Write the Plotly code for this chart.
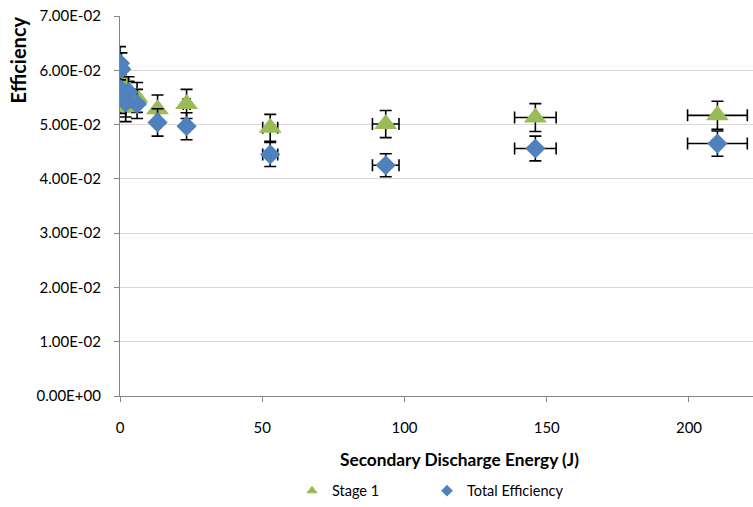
import plotly.graph_objects as go

# ---- data ----
energy = [0.0, 0.5, 0.3, 3.0, 2.0, 6.0, 13.2, 23.4, 52.8, 93.4, 146.0, 210.0]
stage1 = [0.0590, 0.0580, 0.0548, 0.0552, 0.0532, 0.0550, 0.0528, 0.0538, 0.0494, 0.0501, 0.0513, 0.0517]
total_eff = [0.0613, 0.0602, 0.0565, 0.0560, 0.0541, 0.0538, 0.0504, 0.0497, 0.0445, 0.0425, 0.0456, 0.0465]
rel_err = 0.05  # 5 % error bars on both axes

y_tickvals = [0.0, 0.01, 0.02, 0.03, 0.04, 0.05, 0.06, 0.07]
y_ticktext = ["0.00E+00", "1.00E-02", "2.00E-02", "3.00E-02", "4.00E-02",
              "5.00E-02", "6.00E-02", "7.00E-02"]
x_tickvals = [0, 50, 100, 150, 200]

GREEN = "#9BBB59"
BLUE = "#4F81BD"
FONT = "Lato"

W, H = 753, 507
L, T = 120, 16
PW, PH = 633, 385
B = H - T - PH


def px(xs):
    return (xs - L) / PW


def py(ys):
    return (T + PH - ys) / PH


err_style = dict(type="percent", value=rel_err * 100, color="black", thickness=1.6, width=6)

fig = go.Figure()
fig.add_trace(go.Scatter(
    x=energy, y=stage1, mode="markers", name="Stage 1", showlegend=False,
    marker=dict(symbol="triangle-up", size=20, color=GREEN, line=dict(width=0)),
    error_y=err_style, error_x=err_style,
))
fig.add_trace(go.Scatter(
    x=energy, y=total_eff, mode="markers", name="Total Efficiency", showlegend=False,
    marker=dict(symbol="diamond", size=15.5, color=BLUE, line=dict(width=0)),
    error_y=err_style, error_x=err_style,
))
# legend-only entries with small symbols, one legend box each
fig.add_trace(go.Scatter(x=[None], y=[None], mode="markers", name="Stage 1", legend="legend",
                         marker=dict(symbol="triangle-up", size=10, color=GREEN)))
fig.add_trace(go.Scatter(x=[None], y=[None], mode="markers", name="Total Efficiency", legend="legend2",
                         marker=dict(symbol="diamond", size=9, color=BLUE)))

leg_common = dict(orientation="h", xanchor="left", yanchor="middle",
                  font=dict(family=FONT, size=14.5), itemwidth=30,
                  bgcolor="rgba(0,0,0,0)")

fig.update_layout(
    width=W, height=H,
    margin=dict(l=L, r=W - L - PW, t=T, b=B, pad=0),
    plot_bgcolor="white", paper_bgcolor="white",
    font=dict(family=FONT, size=14, color="black"),
    showlegend=True,
    legend=dict(x=px(292), y=py(497), **leg_common),
    legend2=dict(x=px(427), y=py(497), **leg_common),
    xaxis=dict(range=[0, 222.5], tickvals=x_tickvals, showgrid=False, zeroline=False,
               showline=True, linecolor="#868686", linewidth=1.3,
               ticks="outside", ticklen=5, tickcolor="#868686",
               tickfont=dict(family=FONT, size=15), ticklabelstandoff=13),
    yaxis=dict(range=[0, 0.0700001], tickvals=y_tickvals, ticktext=y_ticktext,
               showgrid=True, gridcolor="#D9D9D9", gridwidth=1.3, zeroline=False,
               showline=True, linecolor="#868686", linewidth=1.3,
               ticks="outside", ticklen=5, tickcolor="#868686",
               tickfont=dict(family=FONT, size=15), ticklabelstandoff=10),
    annotations=[
        dict(text="<b>Secondary Discharge Energy (J)</b>", xref="paper", yref="paper",
             x=px(459), y=py(465), xanchor="center", yanchor="middle",
             showarrow=False, font=dict(family=FONT, size=17.3)),
        dict(text="<b>Efficiency</b>", xref="paper", yref="paper", textangle=-90,
             x=px(18), y=py(61), xanchor="center", yanchor="middle",
             showarrow=False, font=dict(family=FONT, size=20)),
    ],
)

fig.write_html("out.html",
               config={"displayModeBar": False},
               post_script="document.body.style.margin='0';document.body.style.overflow='hidden';")
